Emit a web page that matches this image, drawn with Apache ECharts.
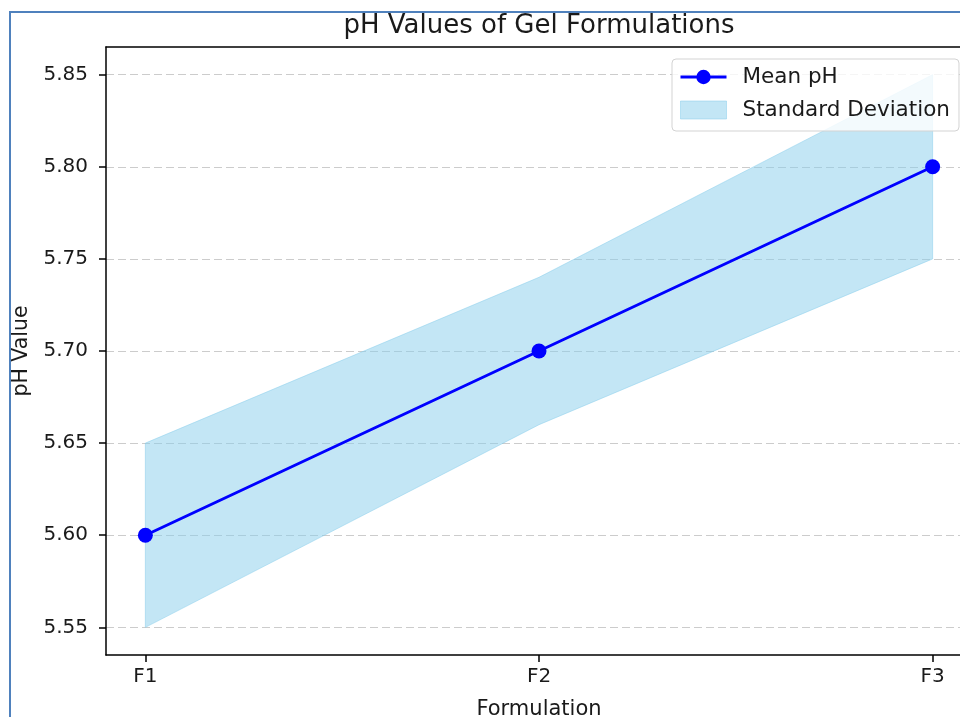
<!DOCTYPE html>
<html>
<head>
<meta charset="utf-8">
<script src="https://cdn.jsdelivr.net/npm/echarts@6/dist/echarts.min.js"></script>
<style>html,body{margin:0;padding:0;background:#fff;}#main{width:960px;height:717px;}</style>
</head>
<body>
<div id="main"></div>
<script>
var categories = ['F1', 'F2', 'F3'];
var meanPH = [5.60, 5.70, 5.80];
var upperPH = [5.65, 5.74, 5.85];
var lowerPH = [5.55, 5.66, 5.75];
var yTicks = [5.55, 5.60, 5.65, 5.70, 5.75, 5.80, 5.85];
var xTicks = [0, 1, 2];

var FONT = 'DejaVu Sans';
var TXT = '#1a1a1a';
var chart = echarts.init(document.getElementById('main'), null, {renderer: 'canvas'});

var meanData = meanPH.map(function (v, i) { return [i, v]; });
var bandData = [[0, meanPH[0]]];

var option = {
  backgroundColor: '#fff',
  animation: false,
  textStyle: {fontFamily: FONT},
  title: {
    text: 'pH Values of Gel Formulations',
    left: 534, top: 8, textAlign: 'center',
    textStyle: {fontFamily: FONT, fontSize: 26, fontWeight: 'normal', color: TXT}
  },
  graphic: [{
    type: 'rect', z: 100, silent: true,
    shape: {x: 10, y: 12, width: 1000, height: 800},
    style: {fill: 'none', stroke: '#4f81bd', lineWidth: 2}
  }],
  grid: {
    left: 106, top: 47, width: 866, height: 608,
    outerBoundsMode: 'none', containLabel: false,
    show: false
  },
  legend: {
    orient: 'vertical', left: 672, top: 59,
    padding: [7, 9, 10, 7],
    itemGap: 11, itemWidth: 46, itemHeight: 18,
    backgroundColor: 'rgba(255,255,255,0.8)', borderColor: '#d3d3d3', borderWidth: 1, borderRadius: 4,
    textStyle: {fontFamily: FONT, fontSize: 21.5, color: TXT, padding: [0, 0, 0, 11]},
    lineStyle: {width: 3},
    data: [
      {name: 'Mean pH'},
      {name: 'Standard Deviation', icon: 'rect', itemStyle: {color: 'rgba(135,206,235,0.5)', borderColor: 'rgba(135,206,235,0.5)', borderWidth: 1}}
    ]
  },
  xAxis: [{
    type: 'value', min: -0.1, max: 2.1,
    name: 'Formulation', nameLocation: 'middle', nameGap: 44,
    nameTextStyle: {fontFamily: FONT, fontSize: 21, color: TXT},
    axisLine: {show: true, onZero: false, lineStyle: {color: '#000', width: 1.5}},
    axisTick: {show: true, length: 7, lineStyle: {color: '#000', width: 1.5}, customValues: xTicks},
    axisLabel: {
      margin: 12, fontFamily: FONT, fontSize: 20, color: TXT, customValues: xTicks,
      formatter: function (v) { return categories[Math.round(v)]; }
    },
    splitLine: {show: false}
  }, {
    type: 'value', min: -0.1, max: 2.1, position: 'top',
    axisLine: {show: true, onZero: false, lineStyle: {color: '#000', width: 1.5}},
    axisTick: {show: false}, axisLabel: {show: false}, splitLine: {show: false}
  }],
  yAxis: {
    type: 'value', min: 5.535, max: 5.865,
    name: 'pH Value', nameLocation: 'middle', nameGap: 73, nameRotate: 90,
    nameTextStyle: {fontFamily: FONT, fontSize: 20.5, color: TXT},
    axisLine: {show: true, onZero: false, lineStyle: {color: '#000', width: 1.5}},
    axisTick: {show: true, length: 7, lineStyle: {color: '#000', width: 1.5}, customValues: yTicks},
    axisLabel: {
      margin: 18, fontFamily: FONT, fontSize: 20, color: TXT, customValues: yTicks,
      formatter: function (v) { return v.toFixed(2); }
    },
    splitLine: {show: true, lineStyle: {color: '#cccccc', width: 1, type: [8, 4]}}
  },
  series: [
    {
      name: 'Standard Deviation', type: 'custom', z: 2,
      data: bandData,
      renderItem: function (params, api) {
        var pts = [];
        for (var i = 0; i < upperPH.length; i++) pts.push(api.coord([i, upperPH[i]]));
        for (var j = lowerPH.length - 1; j >= 0; j--) pts.push(api.coord([j, lowerPH[j]]));
        return {
          type: 'polygon',
          shape: {points: pts},
          style: {fill: 'rgba(135,206,235,0.5)', stroke: 'rgba(135,206,235,0.5)', lineWidth: 1}
        };
      },
      itemStyle: {color: 'rgba(135,206,235,0.5)'}
    },
    {
      name: 'Mean pH', type: 'line', z: 3,
      data: meanData,
      symbol: 'circle', symbolSize: 15,
      itemStyle: {color: '#0000ff'},
      lineStyle: {color: '#0000ff', width: 3}
    }
  ]
};
chart.setOption(option);
</script>
</body>
</html>
